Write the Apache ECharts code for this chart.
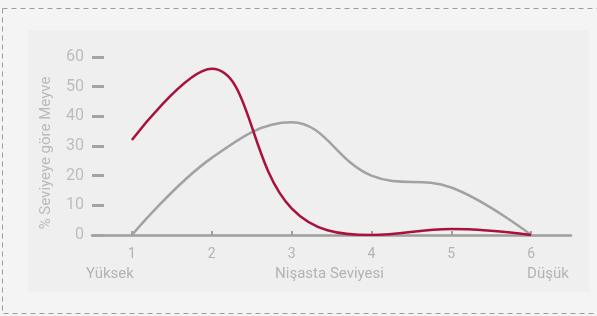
<!DOCTYPE html>
<html lang="tr">
<head>
    <meta charset="UTF-8">
    <title>Nişasta Seviyesi</title>
    <script src="https://cdn.jsdelivr.net/npm/echarts@6/dist/echarts.min.js"></script>
    <style>
        html, body { margin: 0; padding: 0; background: #f5f4f4; }
        #main { width: 597px; height: 316px; }
    </style>
</head>
<body>
<div id="main"></div>
<script type="text/javascript">
    // veriler
    var levels = ['1', '2', '3', '4', '5', '6'];
    var redSeries = [32, 56, 9, 0, 2, 0];
    var graySeries = [0, 26, 38, 20, 16, 0];
    var yTicks = [0, 10, 20, 30, 40, 50, 60];
    var endLabels = ['Yüksek', 'Düşük'];
    var xTitle = 'Nişasta Seviyesi';
    var yTitle = '% Seviyeye göre Meyve';

    var font = 'Roboto, sans-serif';
    var myChart = echarts.init(document.getElementById('main'));

    myChart.setOption({
        animation: false,
        backgroundColor: '#f5f4f4',
        grid: { left: 92, right: 26, top: 57, bottom: 81 },
        xAxis: {
            type: 'category',
            data: levels,
            boundaryGap: true,
            axisLine: { lineStyle: { color: '#9e9e9e', width: 2.5 } },
            axisTick: { show: true, inside: true, alignWithLabel: true, length: 4,
                lineStyle: { color: '#9e9e9e', width: 2 } },
            axisLabel: { color: '#b3b3b3', fontSize: 14, fontFamily: font, margin: 12 },
            splitLine: { show: false }
        },
        yAxis: {
            type: 'value',
            min: yTicks[0],
            max: yTicks[yTicks.length - 1],
            interval: 10,
            name: yTitle,
            nameLocation: 'middle',
            nameGap: 38,
            nameTextStyle: { color: '#bababa', fontSize: 15, fontFamily: font, padding: [0, 14, 0, 0] },
            axisLine: { show: false },
            axisTick: { show: true, inside: true, length: 12,
                lineStyle: { color: '#a3a3a3', width: 3 } },
            axisLabel: { color: '#bdbdbd', fontSize: 16, fontFamily: font, margin: 8 },
            splitLine: { show: false }
        },
        series: [
            {
                name: 'gri',
                type: 'line',
                smooth: 0.4,
                symbol: 'none',
                lineStyle: { color: '#a2a2a2', width: 2.5 },
                data: graySeries
            },
            {
                name: 'kırmızı',
                type: 'line',
                smooth: 0.4,
                symbol: 'none',
                lineStyle: { color: '#a8123c', width: 2.5 },
                data: redSeries
            }
        ]
    });

    // çerçeve, panel ve alt satırdaki yazılar
    var p1 = myChart.convertToPixel({ xAxisIndex: 0, yAxisIndex: 0 }, [0, 0]);
    var p6 = myChart.convertToPixel({ xAxisIndex: 0, yAxisIndex: 0 }, [5, 0]);
    var textY = p1[1] + 39;
    var txtStyle = { fill: '#b3b3b3', fontSize: 15, fontFamily: font, textVerticalAlign: 'middle' };
    myChart.setOption({
        graphic: [
            { type: 'rect', z: -10, silent: true,
              shape: { x: 2.5, y: 8.5, width: 620, height: 305 },
              style: { fill: 'none', stroke: '#9c9c9c', lineWidth: 1, lineDash: [5, 4] } },
            { type: 'rect', z: -9, silent: true,
              shape: { x: 28, y: 30, width: 561, height: 262 },
              style: { fill: '#efefef' } },
            { type: 'text', x: p1[0] + 2, y: textY,
              style: Object.assign({ text: endLabels[0], textAlign: 'right' }, txtStyle) },
            { type: 'text', x: (p1[0] + p6[0]) / 2 - 2, y: textY,
              style: Object.assign({ text: xTitle, textAlign: 'center' }, txtStyle) },
            { type: 'text', x: p6[0] - 4, y: textY,
              style: Object.assign({ text: endLabels[1], textAlign: 'left' }, txtStyle) }
        ]
    });
</script>
</body>
</html>
